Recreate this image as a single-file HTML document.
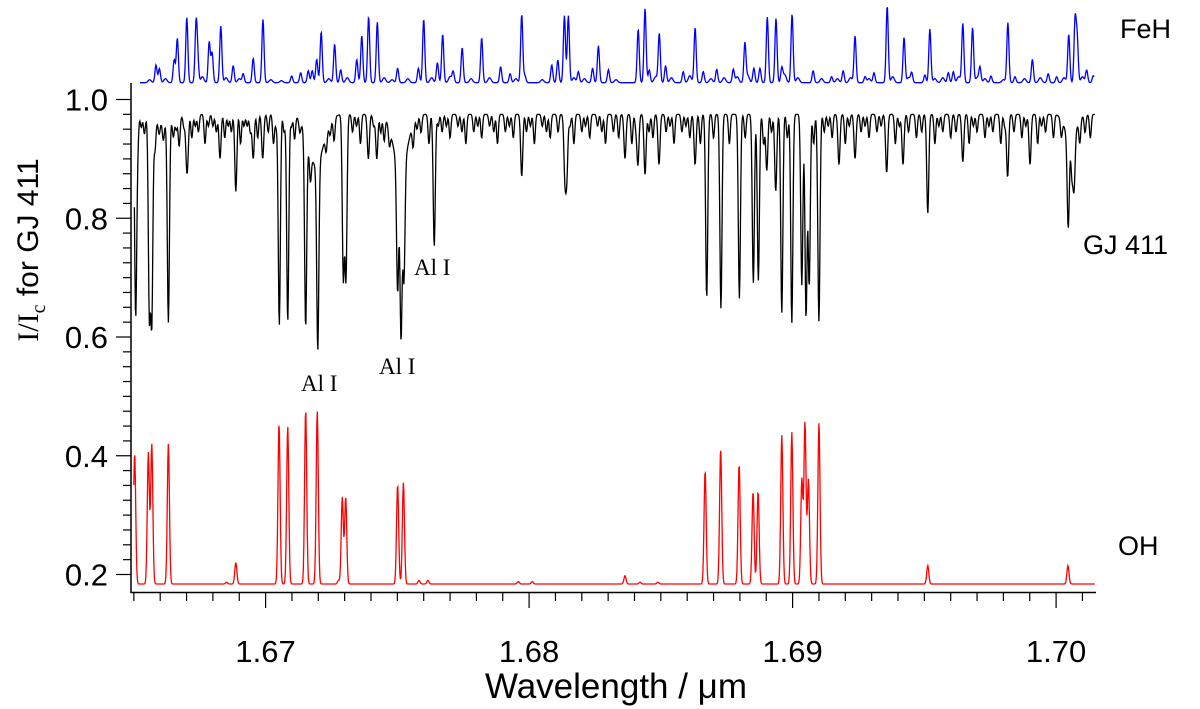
<!DOCTYPE html>
<html><head><meta charset="utf-8"><style>
html,body{margin:0;padding:0;background:#fff;}
svg{display:block;}
.tk{font-family:"Liberation Sans",sans-serif;font-size:30px;fill:#000;}
</style></head><body>
<svg id="chart" width="1200" height="709" viewBox="0 0 1200 709" xmlns="http://www.w3.org/2000/svg">
<g id="plot"></g>
<g id="axes"></g>
<text x="1120" y="38" class="tk" style="font-size:27px">FeH</text>
<text x="1083" y="254" class="tk" style="font-size:27px">GJ 411</text>
<text x="1118" y="555" class="tk" style="font-size:27px">OH</text>
<text x="301" y="391" style="font-family:'Liberation Serif',serif;font-size:23px">Al I</text>
<text x="379" y="374" style="font-family:'Liberation Serif',serif;font-size:23px">Al I</text>
<text x="414" y="275" style="font-family:'Liberation Serif',serif;font-size:23px">Al I</text>
<text x="616" y="698" text-anchor="middle" class="tk" style="font-size:35px">Wavelength / μm</text>
<text transform="translate(38,250) rotate(-90)" text-anchor="middle" style="font-size:30px"><tspan style="font-family:'Liberation Serif',serif">I/I</tspan><tspan style="font-family:'Liberation Serif',serif;font-size:20px" dy="7">c</tspan><tspan dy="-7" style="font-family:'Liberation Sans',sans-serif"> for GJ 411</tspan></text>
</svg>
<script>
// ---- data ----
const xTicksMajor = [1.67, 1.68, 1.69, 1.70];
const xTickLabels = ["1.67", "1.68", "1.69", "1.70"];
const yTicksMajor = [0.2, 0.4, 0.6, 0.8, 1.0];
const yTickLabels = ["0.2", "0.4", "0.6", "0.8", "1.0"];
const ohBaseline = 0.184;
const ohLines = [[1.66503,0.405],[1.66555,0.405],[1.66568,0.42],[1.66631,0.42],[1.66852,0.187],[1.66887,0.22],[1.67051,0.455],[1.67084,0.45],[1.67152,0.478],[1.67196,0.476],[1.67277,0.19],[1.67291,0.33],[1.67304,0.33],[1.67501,0.352],[1.67523,0.355],[1.67582,0.19],[1.67616,0.19],[1.67959,0.188],[1.68012,0.188],[1.68364,0.198],[1.68421,0.187],[1.68489,0.187],[1.68668,0.375],[1.68727,0.412],[1.68797,0.386],[1.68850,0.34],[1.68869,0.34],[1.68959,0.435],[1.68997,0.44],[1.69035,0.36],[1.69047,0.456],[1.69060,0.36],[1.69100,0.456],[1.69513,0.215],[1.70045,0.215]];
const gjContinuum = 0.975;
const gjLines = [[1.66507,0.634],[1.66559,0.640],[1.66568,0.632],[1.66631,0.633],[1.66887,0.845],[1.67052,0.62],[1.67084,0.626],[1.67152,0.64],[1.67198,0.63],[1.67295,0.70],[1.67305,0.70],[1.67501,0.74],[1.67514,0.66],[1.67525,0.76],[1.67640,0.752],[1.66953,0.90],[1.66989,0.90],[1.66827,0.90],[1.66701,0.887],[1.67972,0.87],[1.68136,0.872],[1.68143,0.875],[1.67422,0.9],[1.67390,0.9],[1.68364,0.9],[1.68413,0.89],[1.68440,0.873],[1.68493,0.89],[1.68630,0.89],[1.68674,0.665],[1.68728,0.648],[1.68798,0.665],[1.68851,0.691],[1.68870,0.695],[1.68902,0.88],[1.68936,0.845],[1.68959,0.64],[1.68997,0.623],[1.69035,0.687],[1.69051,0.633],[1.69063,0.686],[1.69100,0.631],[1.69176,0.89],[1.69237,0.9],[1.69357,0.876],[1.69419,0.89],[1.69513,0.808],[1.69646,0.895],[1.69816,0.869],[1.69901,0.89],[1.70046,0.817],[1.70068,0.88]];
const gjBroad = [[1.67190,0.89,0.00030],[1.67512,0.88,0.00026],[1.70055,0.93,0.00020],[1.66610,0.96,0.0004]];
const gjWeak = [[1.66515,0.04],[1.66528,0.02],[1.66540,0.03],[1.66580,0.05],[1.66596,0.02],[1.66612,0.03],[1.66650,0.03],[1.66661,0.02],[1.66672,0.05],[1.66690,0.02],[1.66706,0.03],[1.66720,0.04],[1.66733,0.02],[1.66745,0.03],[1.66770,0.05],[1.66783,0.02],[1.66800,0.02],[1.66813,0.03],[1.66845,0.04],[1.66858,0.02],[1.66870,0.03],[1.66905,0.05],[1.66918,0.02],[1.66930,0.02],[1.66942,0.03],[1.66970,0.04],[1.67010,0.03],[1.67030,0.05],[1.67040,0.02],[1.67070,0.03],[1.67098,0.02],[1.67110,0.04],[1.67130,0.02],[1.67170,0.05],[1.67230,0.03],[1.67245,0.02],[1.67260,0.04],[1.67330,0.03],[1.67345,0.02],[1.67360,0.05],[1.67410,0.02],[1.67437,0.03],[1.67450,0.04],[1.67470,0.03],[1.67560,0.04],[1.67575,0.02],[1.67590,0.03],[1.67620,0.05],[1.67655,0.02],[1.67670,0.03],[1.67686,0.02],[1.67700,0.04],[1.67730,0.02],[1.67745,0.03],[1.67760,0.05],[1.67790,0.03],[1.67805,0.02],[1.67820,0.04],[1.67850,0.02],[1.67866,0.03],[1.67880,0.05],[1.67910,0.03],[1.67925,0.02],[1.67940,0.04],[1.67990,0.03],[1.68005,0.02],[1.68020,0.05],[1.68050,0.02],[1.68066,0.03],[1.68080,0.04],[1.68110,0.03],[1.68155,0.02],[1.68170,0.05],[1.68200,0.03],[1.68214,0.02],[1.68230,0.04],[1.68260,0.02],[1.68276,0.03],[1.68290,0.05],[1.68320,0.03],[1.68340,0.04],[1.68390,0.05],[1.68405,0.02],[1.68455,0.03],[1.68470,0.04],[1.68520,0.03],[1.68535,0.02],[1.68550,0.05],[1.68580,0.03],[1.68595,0.02],[1.68610,0.04],[1.68650,0.05],[1.68700,0.04],[1.68760,0.05],[1.68820,0.04],[1.68890,0.05],[1.68920,0.03],[1.68980,0.04],[1.69080,0.05],[1.69095,0.02],[1.69120,0.03],[1.69135,0.02],[1.69150,0.04],[1.69200,0.05],[1.69215,0.02],[1.69260,0.03],[1.69275,0.02],[1.69290,0.04],[1.69320,0.03],[1.69336,0.02],[1.69390,0.05],[1.69405,0.02],[1.69440,0.03],[1.69470,0.04],[1.69490,0.03],[1.69540,0.05],[1.69555,0.02],[1.69570,0.03],[1.69600,0.04],[1.69620,0.03],[1.69670,0.05],[1.69686,0.02],[1.69700,0.03],[1.69730,0.04],[1.69745,0.02],[1.69760,0.03],[1.69790,0.05],[1.69805,0.02],[1.69840,0.03],[1.69870,0.04],[1.69885,0.02],[1.69930,0.05],[1.69945,0.02],[1.69960,0.03],[1.69990,0.04],[1.70020,0.03],[1.70060,0.06],[1.70090,0.04],[1.70110,0.03],[1.70130,0.04]];
const fehLines = [[1.66584,0.177],[1.66597,0.14],[1.66653,0.227],[1.66665,0.443],[1.66701,0.653],[1.66736,0.56],[1.66742,0.24],[1.66786,0.41],[1.66797,0.30],[1.66830,0.57],[1.66877,0.17],[1.66915,0.09],[1.66953,0.244],[1.66990,0.634],[1.67099,0.067],[1.67133,0.10],[1.67162,0.12],[1.67177,0.12],[1.67194,0.234],[1.67211,0.51],[1.67262,0.387],[1.67285,0.13],[1.67346,0.23],[1.67365,0.47],[1.67391,0.66],[1.67424,0.607],[1.67501,0.144],[1.67580,0.144],[1.67600,0.637],[1.67652,0.20],[1.67672,0.484],[1.67712,0.11],[1.67746,0.35],[1.67820,0.45],[1.67892,0.16],[1.67928,0.09],[1.67972,0.684],[1.67984,0.07],[1.68086,0.177],[1.68109,0.227],[1.68134,0.67],[1.68149,0.67],[1.68187,0.11],[1.68241,0.144],[1.68263,0.37],[1.68301,0.13],[1.68414,0.534],[1.68440,0.744],[1.68456,0.127],[1.68494,0.494],[1.68518,0.167],[1.68585,0.11],[1.68630,0.554],[1.68661,0.11],[1.68712,0.134],[1.68775,0.134],[1.68819,0.394],[1.68853,0.144],[1.68876,0.144],[1.68904,0.66],[1.68937,0.644],[1.68959,0.144],[1.68998,0.687],[1.69078,0.12],[1.69148,0.06],[1.69192,0.12],[1.69237,0.47],[1.69275,0.06],[1.69309,0.10],[1.69359,0.77],[1.69423,0.454],[1.69452,0.10],[1.69502,0.077],[1.69521,0.537],[1.69591,0.10],[1.69610,0.11],[1.69646,0.594],[1.69683,0.554],[1.69711,0.154],[1.69753,0.067],[1.69817,0.60],[1.69844,0.06],[1.69910,0.234],[1.69970,0.09],[1.70002,0.06],[1.70048,0.484],[1.70072,0.62],[1.70080,0.434],[1.70116,0.127],[1.70141,0.07]];
const fehWeak = [[1.66560,0.03],[1.66620,0.04],[1.66760,0.06],[1.66850,0.05],[1.66900,0.04],[1.67020,0.03],[1.67060,0.02],[1.67240,0.04],[1.67310,0.05],[1.67450,0.05],[1.67480,0.03],[1.67540,0.04],[1.67630,0.05],[1.67700,0.06],[1.67780,0.04],[1.67850,0.05],[1.67950,0.04],[1.68050,0.03],[1.68170,0.05],[1.68210,0.04],[1.68330,0.03],[1.68480,0.06],[1.68540,0.05],[1.68610,0.07],[1.68690,0.04],[1.68740,0.05],[1.68790,0.06],[1.68830,0.07],[1.68970,0.08],[1.69020,0.05],[1.69110,0.04],[1.69170,0.04],[1.69220,0.05],[1.69290,0.04],[1.69380,0.06],[1.69440,0.05],[1.69540,0.04],[1.69570,0.05],[1.69630,0.06],[1.69700,0.05],[1.69730,0.04],[1.69800,0.03],[1.69880,0.04],[1.69940,0.05],[1.70030,0.05],[1.70100,0.06]];

// ---- scales ----
const X0 = 1.67, PX0 = 265.6, PXU = 26350;
const xs = w => PX0 + (w - X0) * PXU;
const ys = v => 99.5 + (1 - v) * 593.75;
const fehY = h => 82.7 - h * 100;
const W0 = 1.66500, W1 = 1.70148;
const NS = "http://www.w3.org/2000/svg";
const plot = document.getElementById('plot');
const axes = document.getElementById('axes');
function mk(tag, attrs, parent) {
  const e = document.createElementNS(NS, tag);
  for (const k in attrs) e.setAttribute(k, attrs[k]);
  parent.appendChild(e);
  return e;
}
const g = (w, c, s) => Math.exp(-0.5 * ((w - c) / s) * ((w - c) / s));
const step = 0.5 / PXU;

// OH
let d = "";
for (let w = W0; w <= W1; w += step) {
  let v = ohBaseline;
  for (const [c, p] of ohLines) v += (p - ohBaseline) * g(w, c, 0.00004);
  d += (d ? "L" : "M") + xs(w).toFixed(2) + "," + ys(v).toFixed(2);
}
const oh = mk('path', {d: d, fill: 'none', stroke: '#ff0000', 'stroke-width': 1.3}, plot);



// GJ 411
d = "";
for (let w = W0 + 0.00002; w <= W1; w += step) {
  let f = gjContinuum;
  for (const [c, dp] of gjWeak) f -= dp * g(w, c, 0.000035);
  for (const [c, m, s] of gjBroad) f *= 1 - (1 - m / gjContinuum) * g(w, c, s);
  for (const [c, m] of gjLines) f *= 1 - (1 - m / gjContinuum) * g(w, c, 0.00004);
  d += (d ? "L" : "M") + xs(w).toFixed(2) + "," + ys(f).toFixed(2);
}
const gj = mk('path', {d: d, fill: 'none', stroke: '#000', 'stroke-width': 1.3}, plot);



// FeH
d = "";
for (let w = 1.66523; w <= W1 - 0.00003; w += step) {
  let h = 0;
  for (const [c, p] of fehLines) h += p * g(w, c, 0.00004);
  for (const [c, p] of fehWeak) h += p * g(w, c, 0.00006);
  d += (d ? "L" : "M") + xs(w).toFixed(2) + "," + fehY(h).toFixed(2);
}
const feh = mk('path', {d: d, fill: 'none', stroke: '#0000ff', 'stroke-width': 1.3}, plot);



// axes
const yAxis = mk('line', {x1: 131, y1: 83, x2: 131, y2: 593, stroke: '#000', 'stroke-width': 1.5}, axes);


const xAxis = mk('line', {x1: 130.5, y1: 592.5, x2: 1096, y2: 592.5, stroke: '#000', 'stroke-width': 1.5}, axes);



for (let i = 0; i <= 32; i++) {
  const v = 0.2 + i * 0.025;
  if (v > 1.01) break;
  const major = i % 8 === 0;
  const t = mk('line', {x1: major ? 116 : 123, y1: ys(v), x2: 131, y2: ys(v), stroke: '#000', 'stroke-width': 1.2}, axes);
  
  
}
yTicksMajor.forEach((v, i) => {
  const t = mk('text', {x: 108, y: ys(v) + 11, 'text-anchor': 'end', class: 'tk', style: 'font-size:31px'}, axes);
  t.textContent = yTickLabels[i];
  
  
});
for (let k = 0; k <= 37; k++) {
  const w = 1.665 + k * 0.001;
  if (w > W1) break;
  const major = Math.abs(Math.round(w * 100) - w * 100) < 1e-6;
  const t = mk('line', {x1: xs(w), y1: 593, x2: xs(w), y2: major ? 608 : 601, stroke: '#000', 'stroke-width': 1.2}, axes);
  
  
}
xTicksMajor.forEach((w, i) => {
  const t = mk('text', {x: xs(w), y: 662, 'text-anchor': 'middle', class: 'tk', style: 'font-size:31px'}, axes);
  t.textContent = xTickLabels[i];
  
  
});
</script>
</body></html>
